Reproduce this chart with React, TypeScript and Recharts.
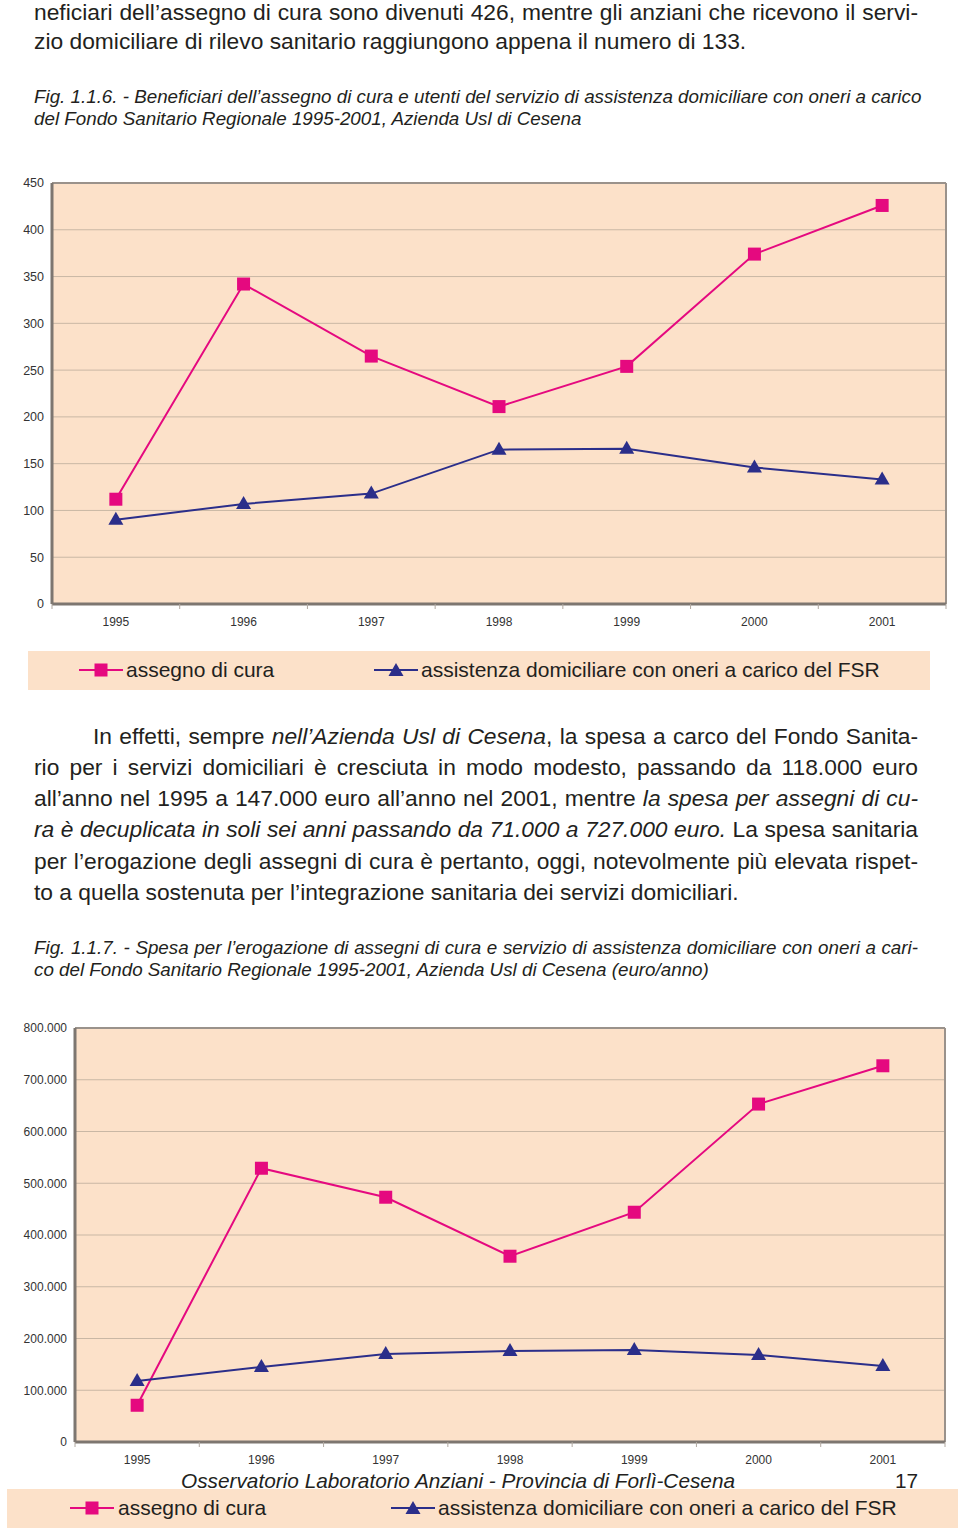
import React from "react";
import { LineChart, Line, XAxis, YAxis, CartesianGrid } from "recharts";

const years = ["1995", "1996", "1997", "1998", "1999", "2000", "2001"];

// Fig. 1.1.6 - beneficiari (numero)
const beneficiariAssegno = [112, 342, 265, 211, 254, 374, 426];
const beneficiariDomiciliare = [90, 107, 118, 165, 166, 146, 133];
const beneficiariTicks = [0, 50, 100, 150, 200, 250, 300, 350, 400, 450];

// Fig. 1.1.7 - spesa (euro/anno)
const spesaAssegno = [71000, 529000, 473000, 359000, 444000, 653000, 727000];
const spesaDomiciliare = [118000, 145000, 170000, 176000, 178000, 168000, 147000];
const spesaTicks = [0, 100000, 200000, 300000, 400000, 500000, 600000, 700000, 800000];

const seriesNames = ["assegno di cura", "assistenza domiciliare con oneri a carico del FSR"];

const MAGENTA = "#e5097f";
const NAVY = "#2b2e8a";
const PEACH = "#fce1c9";
const GRID = "#c9b7a4";
const FRAME = "#7d7670";
const INK = "#231f20";
const FONT = "'Liberation Sans', Arial, Helvetica, sans-serif";

function SquareDot({ cx, cy }: any) {
  if (cx == null || cy == null) return null;
  return <rect x={cx - 6.5} y={cy - 6.5} width={13} height={13} fill={MAGENTA} />;
}

function TriangleDot({ cx, cy }: any) {
  if (cx == null || cy == null) return null;
  return (
    <polygon
      points={`${cx},${cy - 8} ${cx + 7.5},${cy + 5} ${cx - 7.5},${cy + 5}`}
      fill={NAVY}
    />
  );
}

// year label plus the small tick mark at the band boundary
function YearTick({ x, y, payload, index, half }: any) {
  return (
    <g>
      {index === 0 ? (
        <line x1={x - half} y1={y} x2={x - half} y2={y + 5} stroke="#b0a8a0" strokeWidth={1} />
      ) : null}
      <line x1={x + half} y1={y} x2={x + half} y2={y + 5} stroke="#b0a8a0" strokeWidth={1} />
      <text x={x} y={y + 22} textAnchor="middle" fontSize={12} fill="#333" fontFamily={FONT}>
        {payload.value}
      </text>
    </g>
  );
}

// top and right edges of the plot frame
const rightEdge = ({ offset }: any) => [offset.left + offset.width];
const topEdge = ({ offset }: any) => [offset.top];

function TrendChart({
  first,
  second,
  ticks,
  width,
  height,
  margin,
  yWidth,
  half,
  yFont,
  formatY,
}: {
  first: number[];
  second: number[];
  ticks: number[];
  width: number;
  height: number;
  margin: { top: number; right: number; left: number; bottom: number };
  yWidth: number;
  half: number;
  yFont: number;
  formatY: (v: number) => string;
}) {
  const data = years.map((year, i) => ({ year, a: first[i], b: second[i] }));
  const yMax = ticks[ticks.length - 1];

  return (
    <LineChart width={width} height={height} data={data} margin={margin}>
      <CartesianGrid vertical={false} stroke={GRID} fill={PEACH} fillOpacity={1} />
      <CartesianGrid
        horizontal={false}
        verticalCoordinatesGenerator={rightEdge}
        stroke="#9a928b"
        strokeWidth={2}
      />
      <CartesianGrid
        vertical={false}
        horizontalCoordinatesGenerator={topEdge}
        stroke="#9a928b"
        strokeWidth={2}
      />
      <XAxis
        dataKey="year"
        height={36}
        padding={{ left: half, right: half }}
        tickLine={false}
        tickSize={0}
        tickMargin={0}
        interval={0}
        axisLine={{ stroke: FRAME, strokeWidth: 3 }}
        tick={<YearTick half={half} />}
      />
      <YAxis
        width={yWidth}
        domain={[0, yMax]}
        ticks={ticks}
        interval={0}
        tickLine={false}
        tickSize={0}
        tickMargin={8}
        axisLine={{ stroke: FRAME, strokeWidth: 3 }}
        tick={{ fontSize: yFont, fill: "#333", fontFamily: FONT }}
        tickFormatter={formatY}
      />
      <Line
        dataKey="a"
        name={seriesNames[0]}
        stroke={MAGENTA}
        strokeWidth={2}
        dot={<SquareDot />}
        activeDot={false}
        isAnimationActive={false}
      />
      <Line
        dataKey="b"
        name={seriesNames[1]}
        stroke={NAVY}
        strokeWidth={2}
        dot={<TriangleDot />}
        activeDot={false}
        isAnimationActive={false}
      />
    </LineChart>
  );
}

function LegendIcon({ kind }: { kind: "square" | "triangle" }) {
  const color = kind === "square" ? MAGENTA : NAVY;
  return (
    <svg width={44} height={16} style={{ display: "block" }}>
      <line x1={0} y1={8} x2={44} y2={8} stroke={color} strokeWidth={2} />
      {kind === "square" ? (
        <rect x={15.5} y={1.5} width={13} height={13} fill={color} />
      ) : (
        <polygon points="22,1 29.5,14 14.5,14" fill={color} />
      )}
    </svg>
  );
}

function LegendBox({
  top,
  left,
  width,
  items,
}: {
  top: number;
  left: number;
  width: number;
  items: { icon: number; text: number }[];
}) {
  return (
    <div
      style={{
        position: "absolute",
        top,
        left,
        width,
        height: 39,
        background: PEACH,
      }}
    >
      {seriesNames.map((name, i) => (
        <React.Fragment key={name}>
          <div style={{ position: "absolute", left: items[i].icon - left, top: 11 }}>
            <LegendIcon kind={i === 0 ? "square" : "triangle"} />
          </div>
          <div
            style={{
              position: "absolute",
              left: items[i].text - left,
              top: 7,
              fontSize: 21,
              lineHeight: "24px",
              color: INK,
              whiteSpace: "nowrap",
            }}
          >
            {name}
          </div>
        </React.Fragment>
      ))}
    </div>
  );
}

function TextLine({
  center,
  size,
  lh,
  last,
  indent,
  italic,
  right = 918,
  children,
}: {
  center: number;
  size: number;
  lh: number;
  last?: boolean;
  indent?: number;
  italic?: boolean;
  right?: number;
  children: React.ReactNode;
}) {
  const left = 34 + (indent ?? 0);
  return (
    <div
      style={{
        position: "absolute",
        top: center - lh / 2,
        left,
        width: right - left,
        fontSize: size,
        lineHeight: `${lh}px`,
        height: lh,
        fontStyle: italic ? "italic" : "normal",
        textAlign: "justify",
        textAlignLast: last ? "left" : "justify",
        whiteSpace: "nowrap",
        color: INK,
      }}
    >
      {children}
    </div>
  );
}

const fmtNum = (v: number) => String(v);
const fmtEuro = (v: number) => (v === 0 ? "0" : `${v / 1000}.000`);

const BODY = 22.8;
const CAPTION = 18.8;

export default function App() {
  return (
    <div
      style={{
        position: "absolute",
        left: 0,
        top: 0,
        width: 960,
        height: 1535,
        background: "#fff",
        fontFamily: FONT,
        overflow: "hidden",
      }}
    >
      <TextLine center={12} size={BODY} lh={29}>
        neficiari dell’assegno di cura sono divenuti 426, mentre gli anziani che ricevono il servi-
      </TextLine>
      <TextLine center={41} size={BODY} lh={29} last>
        zio domiciliare di rilevo sanitario raggiungono appena il numero di 133.
      </TextLine>

      <TextLine center={97} size={CAPTION} lh={22} italic right={921}>
        Fig. 1.1.6. - Beneficiari dell’assegno di cura e utenti del servizio di assistenza domiciliare con oneri a carico
      </TextLine>
      <TextLine center={119} size={CAPTION} lh={22} italic last>
        del Fondo Sanitario Regionale 1995-2001, Azienda Usl di Cesena
      </TextLine>

      <div style={{ position: "absolute", left: 0, top: 170 }}>
        <TrendChart
          first={beneficiariAssegno}
          second={beneficiariDomiciliare}
          ticks={beneficiariTicks}
          width={960}
          height={470}
          margin={{ top: 13, right: 14, left: 0, bottom: 0 }}
          yWidth={52}
          half={894 / 14}
          yFont={12.5}
          formatY={fmtNum}
        />
      </div>

      <LegendBox
        top={651}
        left={28}
        width={902}
        items={[
          { icon: 79, text: 126 },
          { icon: 374, text: 421 },
        ]}
      />

      <TextLine center={736} size={BODY} lh={31} indent={59}>
        In effetti, sempre <i>nell’Azienda Usl di Cesena</i>, la spesa a carco del Fondo Sanita-
      </TextLine>
      <TextLine center={767} size={BODY} lh={31}>
        rio per i servizi domiciliari è cresciuta in modo modesto, passando da 118.000 euro
      </TextLine>
      <TextLine center={798} size={BODY} lh={31}>
        all’anno nel 1995 a 147.000 euro all’anno nel 2001, mentre <i>la spesa per assegni di cu-</i>
      </TextLine>
      <TextLine center={829} size={BODY} lh={31}>
        <i>ra è decuplicata in soli sei anni passando da 71.000 a 727.000 euro.</i> La spesa sanitaria
      </TextLine>
      <TextLine center={861} size={BODY} lh={31}>
        per l’erogazione degli assegni di cura è pertanto, oggi, notevolmente più elevata rispet-
      </TextLine>
      <TextLine center={892} size={BODY} lh={31} last>
        to a quella sostenuta per l’integrazione sanitaria dei servizi domiciliari.
      </TextLine>

      <TextLine center={948} size={CAPTION} lh={22} italic>
        Fig. 1.1.7. - Spesa per l’erogazione di assegni di cura e servizio di assistenza domiciliare con oneri a cari-
      </TextLine>
      <TextLine center={970} size={CAPTION} lh={22} italic last>
        co del Fondo Sanitario Regionale 1995-2001, Azienda Usl di Cesena (euro/anno)
      </TextLine>

      <div style={{ position: "absolute", left: 0, top: 1015 }}>
        <TrendChart
          first={spesaAssegno}
          second={spesaDomiciliare}
          ticks={spesaTicks}
          width={960}
          height={463}
          margin={{ top: 13, right: 15, left: 0, bottom: 0 }}
          yWidth={75}
          half={870 / 14}
          yFont={12}
          formatY={fmtEuro}
        />
      </div>

      <LegendBox
        top={1489}
        left={7}
        width={951}
        items={[
          { icon: 70, text: 118 },
          { icon: 391, text: 438 },
        ]}
      />

      <div
        style={{
          position: "absolute",
          left: 181,
          top: 1469,
          fontSize: 20.8,
          lineHeight: "24px",
          fontStyle: "italic",
          color: INK,
          whiteSpace: "nowrap",
        }}
      >
        Osservatorio Laboratorio Anziani - Provincia di Forlì-Cesena
      </div>
      <div
        style={{
          position: "absolute",
          left: 895,
          top: 1469,
          fontSize: 20.8,
          lineHeight: "24px",
          color: INK,
        }}
      >
        17
      </div>
    </div>
  );
}
